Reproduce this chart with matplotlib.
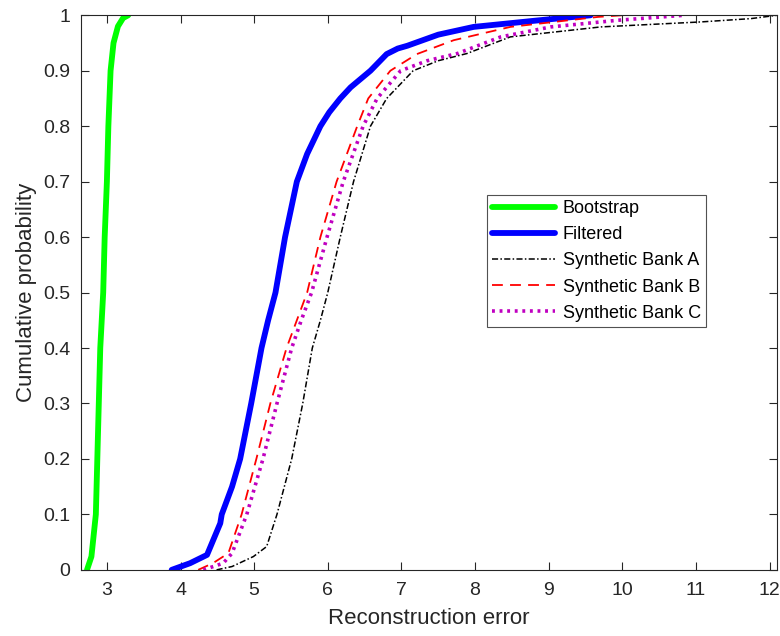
import matplotlib
matplotlib.use('Agg')
import matplotlib.pyplot as plt
import numpy as np

plt.rcParams['font.family'] = ['Liberation Sans', 'DejaVu Sans']

# cumulative probability levels and reconstruction errors
boot_x = [2.73, 2.79, 2.85, 2.87, 2.89, 2.91, 2.95, 2.97, 3.00, 3.02, 3.05, 3.09, 3.15, 3.22, 3.29]
boot_y = [0.0, 0.024, 0.10, 0.20, 0.30, 0.40, 0.50, 0.60, 0.70, 0.80, 0.90, 0.95, 0.98, 0.995, 1.0]

filt_x = [3.88, 4.13, 4.36, 4.54, 4.56, 4.70, 4.81, 4.96, 5.10, 5.19, 5.29, 5.42, 5.58, 5.72, 5.90,
          6.02, 6.17, 6.31, 6.58, 6.80, 6.95, 7.08, 7.50, 7.98, 8.80, 9.57]
filt_y = [0.0, 0.012, 0.027, 0.084, 0.10, 0.15, 0.20, 0.30, 0.40, 0.45, 0.50, 0.60, 0.70, 0.75, 0.80,
          0.825, 0.85, 0.87, 0.90, 0.93, 0.94, 0.945, 0.965, 0.979, 0.99, 1.0]

bank_a_x = [4.49, 4.70, 4.99, 5.17, 5.31, 5.51, 5.66, 5.79, 5.90, 6.00, 6.17, 6.35, 6.58, 6.80, 7.16,
            7.50, 7.89, 8.48, 9.71, 11.07, 11.75, 12.1]
bank_a_y = [0.0, 0.006, 0.024, 0.042, 0.10, 0.20, 0.30, 0.40, 0.45, 0.50, 0.60, 0.70, 0.80, 0.85, 0.90,
            0.918, 0.931, 0.961, 0.979, 0.988, 0.994, 1.0]

bank_b_x = [4.24, 4.44, 4.65, 4.83, 5.03, 5.22, 5.44, 5.58, 5.72, 5.90, 6.12, 6.40, 6.55, 6.85, 7.21,
            7.71, 8.48, 9.67, 10.0]
bank_b_y = [0.0, 0.012, 0.03, 0.10, 0.20, 0.30, 0.40, 0.45, 0.50, 0.60, 0.70, 0.80, 0.85, 0.90, 0.93,
            0.955, 0.979, 0.997, 1.0]

bank_c_x = [4.31, 4.58, 4.70, 4.90, 5.12, 5.31, 5.51, 5.64, 5.78, 5.99, 6.21, 6.48, 6.67, 6.99, 7.35,
            7.76, 8.35, 9.03, 9.94, 10.84]
bank_c_y = [0.0, 0.012, 0.03, 0.10, 0.20, 0.30, 0.40, 0.45, 0.50, 0.60, 0.70, 0.80, 0.85, 0.90, 0.918,
            0.931, 0.961, 0.979, 0.991, 1.0]

fig = plt.figure(figsize=(7.8, 6.36), dpi=100)
ax = fig.add_axes([0.104, 0.104, 0.892, 0.872])

ax.plot(boot_x, boot_y, color='#00ff00', lw=4.2, label='Bootstrap', solid_capstyle='round')
ax.plot(filt_x, filt_y, color='#0000ff', lw=4.2, label='Filtered', solid_capstyle='round')
ax.plot(bank_a_x, bank_a_y, color='black', lw=1.1, linestyle=(0, (4, 1.5, 1, 1.5)), label='Synthetic Bank A')
ax.plot(bank_b_x, bank_b_y, color='#ff0000', lw=1.3, linestyle=(0, (6, 4)), label='Synthetic Bank B')
ax.plot(bank_c_x, bank_c_y, color='#c000c0', lw=2.6, linestyle=(0, (0.8, 1.3)), label='Synthetic Bank C')

ax.set_xlim(2.65, 12.1)
ax.set_ylim(0, 1)
ax.set_xticks(range(3, 13))
ax.set_yticks(np.arange(0, 1.01, 0.1))
ax.set_yticklabels(['0', '0.1', '0.2', '0.3', '0.4', '0.5', '0.6', '0.7', '0.8', '0.9', '1'])
ax.tick_params(direction='in', top=True, right=True, labelsize=14, colors='#262626', length=6)
ax.tick_params(axis='x', pad=9)
ax.tick_params(axis='y', pad=8)
for s in ax.spines.values():
    s.set_color('#262626')
    s.set_linewidth(0.8)

ax.set_xlabel('Reconstruction error', fontsize=16, color='#262626', labelpad=6)
ax.set_ylabel('Cumulative probability', fontsize=16, color='#262626', labelpad=4)

leg = ax.legend(loc='lower left', bbox_to_anchor=(0.583, 0.438), borderaxespad=0, fontsize=13,
                frameon=True, fancybox=False, edgecolor='#262626', handlelength=3.5, borderpad=0.3,
                labelspacing=0.5, handletextpad=0.4)
leg.get_frame().set_linewidth(0.8)

plt.savefig('out.png', dpi=100)
